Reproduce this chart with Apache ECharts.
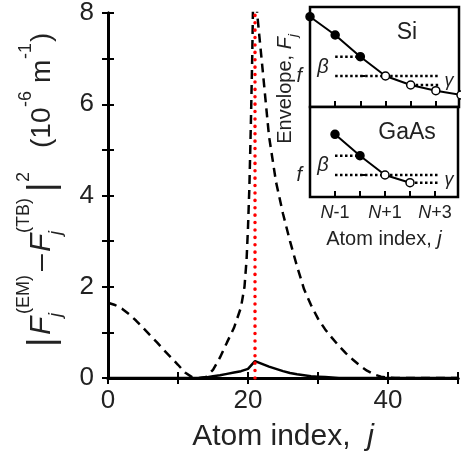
<!DOCTYPE html>
<html>
<head>
<meta charset="utf-8">
<script src="https://cdn.jsdelivr.net/npm/echarts@6/dist/echarts.min.js"></script>
<style>
  html, body { margin: 0; padding: 0; background: #fff; }
  #chart { width: 461px; height: 457px; }
</style>
</head>
<body>
<div id="chart"></div>
<script>
// main plot: |F(EM) - F(TB)|^2 vs atom index j
var dashedJ = [0, 1, 2, 3, 4, 5, 6, 7, 8, 9, 10, 11, 12, 13, 14, 15, 16, 17, 18, 19, 19.5, 19.8, 20, 20.2, 20.4, 20.6, 20.85, 21,
               21.3, 22, 22.5, 23, 24, 25, 26, 27, 28, 29, 30, 31, 32, 33, 34, 35, 36, 37, 38, 39, 40, 41, 50];
var dashedV = [1.65, 1.6, 1.52, 1.4, 1.26, 1.1, 0.94, 0.78, 0.61, 0.45, 0.29, 0.12, 0.02, 0, 0.02, 0.18, 0.45, 0.78, 1.1, 1.55, 2.0, 2.6, 3.3, 4.2, 5.5, 7.0, 9.5, 10.5,
               8.0, 6.9, 6.1, 5.3, 4.3, 3.6, 3.0, 2.45, 1.95, 1.6, 1.3, 1.07, 0.88, 0.7, 0.54, 0.4, 0.27, 0.16, 0.08, 0.03, 0.01, 0, 0];
var solidJ = [0, 12, 13, 14, 15, 16, 17, 18, 19, 20, 21, 22, 23, 24, 25, 26, 27, 28, 29, 30, 31, 32, 33, 50];
var solidV = [0, 0, 0, 0.01, 0.04, 0.06, 0.09, 0.12, 0.15, 0.2, 0.37, 0.31, 0.25, 0.2, 0.15, 0.11, 0.08, 0.06, 0.04, 0.03, 0.02, 0.01, 0, 0];
var interfaceJ = 21;
var yMax = 8;

// inset: envelope F_j around the interface (index relative to N)
var siIdx = [-2, -1, 0, 1, 2, 3, 4];
var siEnv = [90.3, 72, 50.3, 31, 22, 16.3, 12];
var gaasIdx = [-1, 0, 1, 2];
var gaasEnv = [62.7, 41.3, 22, 14.3];
var levelEnd = 3.15;

var FONT = 'Liberation Sans, Arial, sans-serif';
var TXT = '#222';

function pairs(xs, ys) {
    var out = [];
    for (var i = 0; i < xs.length; i++) out.push([xs[i], ys[i]]);
    return out;
}
// filled for j <= N, open for j > N
function envPoints(idx, env) {
    return idx.map(function (x, i) {
        return {
            value: [x, env[i]],
            itemStyle: { color: x <= 0 ? '#000' : '#fff', borderColor: '#000', borderWidth: 1.5 }
        };
    });
}
function dotted(ai, pts) {
    return {
        type: 'line', xAxisIndex: ai, yAxisIndex: ai, data: pts, symbol: 'none', silent: true,
        lineStyle: { color: '#000', width: 2.5, type: [2.5, 2.5] }, z: 4
    };
}

var siIdx0 = siIdx.indexOf(0), siIdx1 = siIdx.indexOf(1), siIdx2 = siIdx.indexOf(2);
var gaIdx0 = gaasIdx.indexOf(0), gaIdx1 = gaasIdx.indexOf(1), gaIdx2 = gaasIdx.indexOf(2);

var chart = echarts.init(document.getElementById('chart'), null, { renderer: 'canvas' });

var nLabel = function (v) {
    if (v === -1) return '{i|N}-1';
    if (v === 1) return '{i|N}+1';
    if (v === 3) return '{i|N}+3';
    return '';
};

var option = {
    animation: false,
    backgroundColor: '#fff',
    textStyle: { fontFamily: FONT, color: TXT },
    grid: [
        { left: 108, top: 7, width: 351, height: 371 },
        { left: 310, top: 7, width: 149, height: 100, show: true, backgroundColor: '#fff', borderColor: '#000', borderWidth: 2.5, z: 3 },
        { left: 310, top: 107, width: 149, height: 90, show: true, backgroundColor: '#fff', borderColor: '#000', borderWidth: 2.5, z: 3 }
    ],
    xAxis: [
        {
            gridIndex: 0, type: 'value', min: 0, max: 50, interval: 10,
            axisLine: { lineStyle: { color: '#000', width: 3 } },
            axisTick: { inside: true, length: 6, lineStyle: { color: '#000', width: 2 } },
            axisLabel: {
                fontSize: 26, color: TXT, margin: 10, fontFamily: FONT,
                formatter: function (v) { return v % 20 === 0 ? String(v) : ''; }
            },
            splitLine: { show: false },
            name: 'Atom index,  {i|j}', nameLocation: 'middle', nameGap: 44,
            nameTextStyle: { fontSize: 30, color: TXT, fontFamily: FONT, rich: { i: { fontSize: 30, fontStyle: 'italic', color: TXT, fontFamily: FONT } } }
        },
        {
            gridIndex: 0, type: 'value', position: 'top', min: 0, max: 50, interval: 10,
            axisLine: { lineStyle: { color: '#000', width: 3 } },
            axisTick: { inside: true, length: 6, lineStyle: { color: '#000', width: 2 } },
            axisLabel: { show: false }, splitLine: { show: false }
        },
        {
            gridIndex: 1, type: 'value', min: -2, max: 3.92, interval: 1, z: 4,
            axisLine: { show: false },
            axisTick: { inside: true, length: 6, lineStyle: { color: '#000', width: 2 } },
            axisLabel: { show: false }, splitLine: { show: false }
        },
        {
            gridIndex: 2, type: 'value', min: -2, max: 3.92, interval: 1, z: 4,
            axisLine: { show: false },
            axisTick: { inside: true, length: 6, lineStyle: { color: '#000', width: 2 } },
            axisLabel: {
                fontSize: 18, color: TXT, margin: 7, fontFamily: FONT, formatter: nLabel,
                rich: { i: { fontSize: 18, fontStyle: 'italic', color: TXT, fontFamily: FONT } }
            },
            splitLine: { show: false },
            name: 'Atom index, {i|j}', nameLocation: 'middle', nameGap: 32,
            nameTextStyle: { fontSize: 20, color: TXT, fontFamily: FONT, rich: { i: { fontSize: 20, fontStyle: 'italic', color: TXT, fontFamily: FONT } } }
        }
    ],
    yAxis: [
        {
            gridIndex: 0, type: 'value', min: 0, max: yMax, interval: 1,
            axisLine: { lineStyle: { color: '#000', width: 3 } },
            axisTick: { inside: true, length: 6, lineStyle: { color: '#000', width: 2 } },
            axisLabel: {
                fontSize: 26, color: TXT, margin: 14, fontFamily: FONT,
                formatter: function (v) { return v % 2 === 0 ? String(v) : ''; }
            },
            splitLine: { show: false }
        },
        {
            gridIndex: 0, type: 'value', position: 'right', min: 0, max: yMax, interval: 1,
            axisLine: { lineStyle: { color: '#000', width: 3 } },
            axisTick: { inside: true, length: 6, lineStyle: { color: '#000', width: 2 } },
            axisLabel: { show: false }, splitLine: { show: false }
        },
        {
            gridIndex: 1, type: 'value', min: 0, max: 100, z: 4,
            axisLine: { show: false },
            axisTick: { inside: true, length: 5, customValues: [siEnv[siIdx1]], lineStyle: { color: '#000', width: 2 } },
            axisLabel: {
                customValues: [siEnv[siIdx1]], formatter: function () { return 'f'; },
                fontSize: 20, fontStyle: 'italic', color: TXT, margin: 8, fontFamily: FONT
            },
            splitLine: { show: false }
        },
        {
            gridIndex: 2, type: 'value', min: 0, max: 90, z: 4,
            axisLine: { show: false },
            axisTick: { inside: true, length: 5, customValues: [gaasEnv[gaIdx1]], lineStyle: { color: '#000', width: 2 } },
            axisLabel: {
                customValues: [gaasEnv[gaIdx1]], formatter: function () { return 'f'; },
                fontSize: 20, fontStyle: 'italic', color: TXT, margin: 8, fontFamily: FONT
            },
            splitLine: { show: false }
        }
    ],
    series: [
        {
            name: 'dashed', type: 'line', xAxisIndex: 0, yAxisIndex: 0, data: pairs(dashedJ, dashedV),
            symbol: 'none', clip: true,
            lineStyle: { color: '#000', width: 2.5, type: [9, 6] }
        },
        {
            name: 'solid', type: 'line', xAxisIndex: 0, yAxisIndex: 0, data: pairs(solidJ, solidV),
            symbol: 'none', clip: true,
            lineStyle: { color: '#000', width: 2.5 }
        },
        {
            name: 'interface', type: 'line', xAxisIndex: 0, yAxisIndex: 0,
            data: [[interfaceJ, 0], [interfaceJ, yMax]], symbol: 'none',
            lineStyle: { color: '#f00', width: 3.5, type: [0.1, 7.3], cap: 'round' }
        },
        // Si inset (axes index 2)
        dotted(2, [[-1, siEnv[siIdx0]], [0, siEnv[siIdx0]]]),
        dotted(2, [[-1, siEnv[siIdx1]], [levelEnd, siEnv[siIdx1]]]),
        dotted(2, [[2, siEnv[siIdx2]], [levelEnd, siEnv[siIdx2]]]),
        {
            name: 'Si', type: 'line', xAxisIndex: 2, yAxisIndex: 2, data: envPoints(siIdx, siEnv),
            symbol: 'circle', symbolSize: 8, clip: false, z: 5,
            lineStyle: { color: '#000', width: 2 }
        },
        // GaAs inset (axes index 3)
        dotted(3, [[-1, gaasEnv[gaIdx0]], [0, gaasEnv[gaIdx0]]]),
        dotted(3, [[-1, gaasEnv[gaIdx1]], [levelEnd, gaasEnv[gaIdx1]]]),
        dotted(3, [[2, gaasEnv[gaIdx2]], [levelEnd, gaasEnv[gaIdx2]]]),
        {
            name: 'GaAs', type: 'line', xAxisIndex: 3, yAxisIndex: 3, data: envPoints(gaasIdx, gaasEnv),
            symbol: 'circle', symbolSize: 8, clip: false, z: 5,
            lineStyle: { color: '#000', width: 2 }
        }
    ],
    graphic: [
        // y axis title, rotated to read bottom-to-top
        {
            type: 'group', x: 0, y: 347, rotation: Math.PI / 2,
            children: [
                { type: 'text', x: 0, y: 43, style: { text: '|', font: '36px ' + FONT, fill: TXT, verticalAlign: 'middle' } },
                { type: 'text', x: 12, y: 42, style: { text: 'F', font: 'italic 30px ' + FONT, fill: TXT, verticalAlign: 'middle' } },
                { type: 'text', x: 30, y: 56, style: { text: 'j', font: 'italic 18px ' + FONT, fill: TXT, verticalAlign: 'middle' } },
                { type: 'text', x: 33, y: 24, style: { text: '(EM)', font: '18px ' + FONT, fill: TXT, verticalAlign: 'middle' } },
                { type: 'text', x: 76, y: 42, style: { text: '\u2013', font: '30px ' + FONT, fill: TXT, verticalAlign: 'middle' } },
                { type: 'text', x: 95, y: 42, style: { text: 'F', font: 'italic 30px ' + FONT, fill: TXT, verticalAlign: 'middle' } },
                { type: 'text', x: 112, y: 56, style: { text: 'j', font: 'italic 18px ' + FONT, fill: TXT, verticalAlign: 'middle' } },
                { type: 'text', x: 114, y: 24, style: { text: '(TB)', font: '18px ' + FONT, fill: TXT, verticalAlign: 'middle' } },
                { type: 'text', x: 155, y: 43, style: { text: '|', font: '36px ' + FONT, fill: TXT, verticalAlign: 'middle' } },
                { type: 'text', x: 165, y: 24, style: { text: '2', font: '18px ' + FONT, fill: TXT, verticalAlign: 'middle' } },
                { type: 'text', x: 199, y: 42, style: { text: '(10', font: '28px ' + FONT, fill: TXT, verticalAlign: 'middle' } },
                { type: 'text', x: 240, y: 26, style: { text: '-6', font: '18px ' + FONT, fill: TXT, verticalAlign: 'middle' } },
                { type: 'text', x: 264, y: 42, style: { text: 'm', font: '28px ' + FONT, fill: TXT, verticalAlign: 'middle' } },
                { type: 'text', x: 288, y: 26, style: { text: '-1', font: '18px ' + FONT, fill: TXT, verticalAlign: 'middle' } },
                { type: 'text', x: 305, y: 42, style: { text: ')', font: '28px ' + FONT, fill: TXT, verticalAlign: 'middle' } }
            ]
        },
        // inset labels
        {
            type: 'text', x: 285, y: 89, rotation: Math.PI / 2, z: 10,
            style: {
                text: 'Envelope, {i|F}{s|j}', align: 'center', verticalAlign: 'middle',
                font: '20px ' + FONT, fill: TXT,
                rich: {
                    i: { fontStyle: 'italic', fontSize: 20, fontFamily: FONT, fill: TXT, lineHeight: 30 },
                    s: { fontStyle: 'italic', fontSize: 13, fontFamily: FONT, fill: TXT, verticalAlign: 'bottom', lineHeight: 30 }
                }
            }
        },
        { type: 'text', x: 407, y: 33, z: 10, style: { text: 'Si', font: '23px ' + FONT, fill: TXT, align: 'center', verticalAlign: 'middle' } },
        { type: 'text', x: 407, y: 133, z: 10, style: { text: 'GaAs', font: '23px ' + FONT, fill: TXT, align: 'center', verticalAlign: 'middle' } },
        { type: 'text', x: 323, y: 67, z: 10, style: { text: '\u03b2', font: 'italic 20px ' + FONT, fill: TXT, align: 'center', verticalAlign: 'middle' } },
        { type: 'text', x: 323, y: 165, z: 10, style: { text: '\u03b2', font: 'italic 20px ' + FONT, fill: TXT, align: 'center', verticalAlign: 'middle' } },
        { type: 'text', x: 449, y: 81, z: 10, style: { text: '\u03b3', font: 'italic 18px ' + FONT, fill: TXT, align: 'center', verticalAlign: 'middle' } },
        { type: 'text', x: 449, y: 180, z: 10, style: { text: '\u03b3', font: 'italic 18px ' + FONT, fill: TXT, align: 'center', verticalAlign: 'middle' } }
    ]
};

chart.setOption(option);
</script>
</body>
</html>
